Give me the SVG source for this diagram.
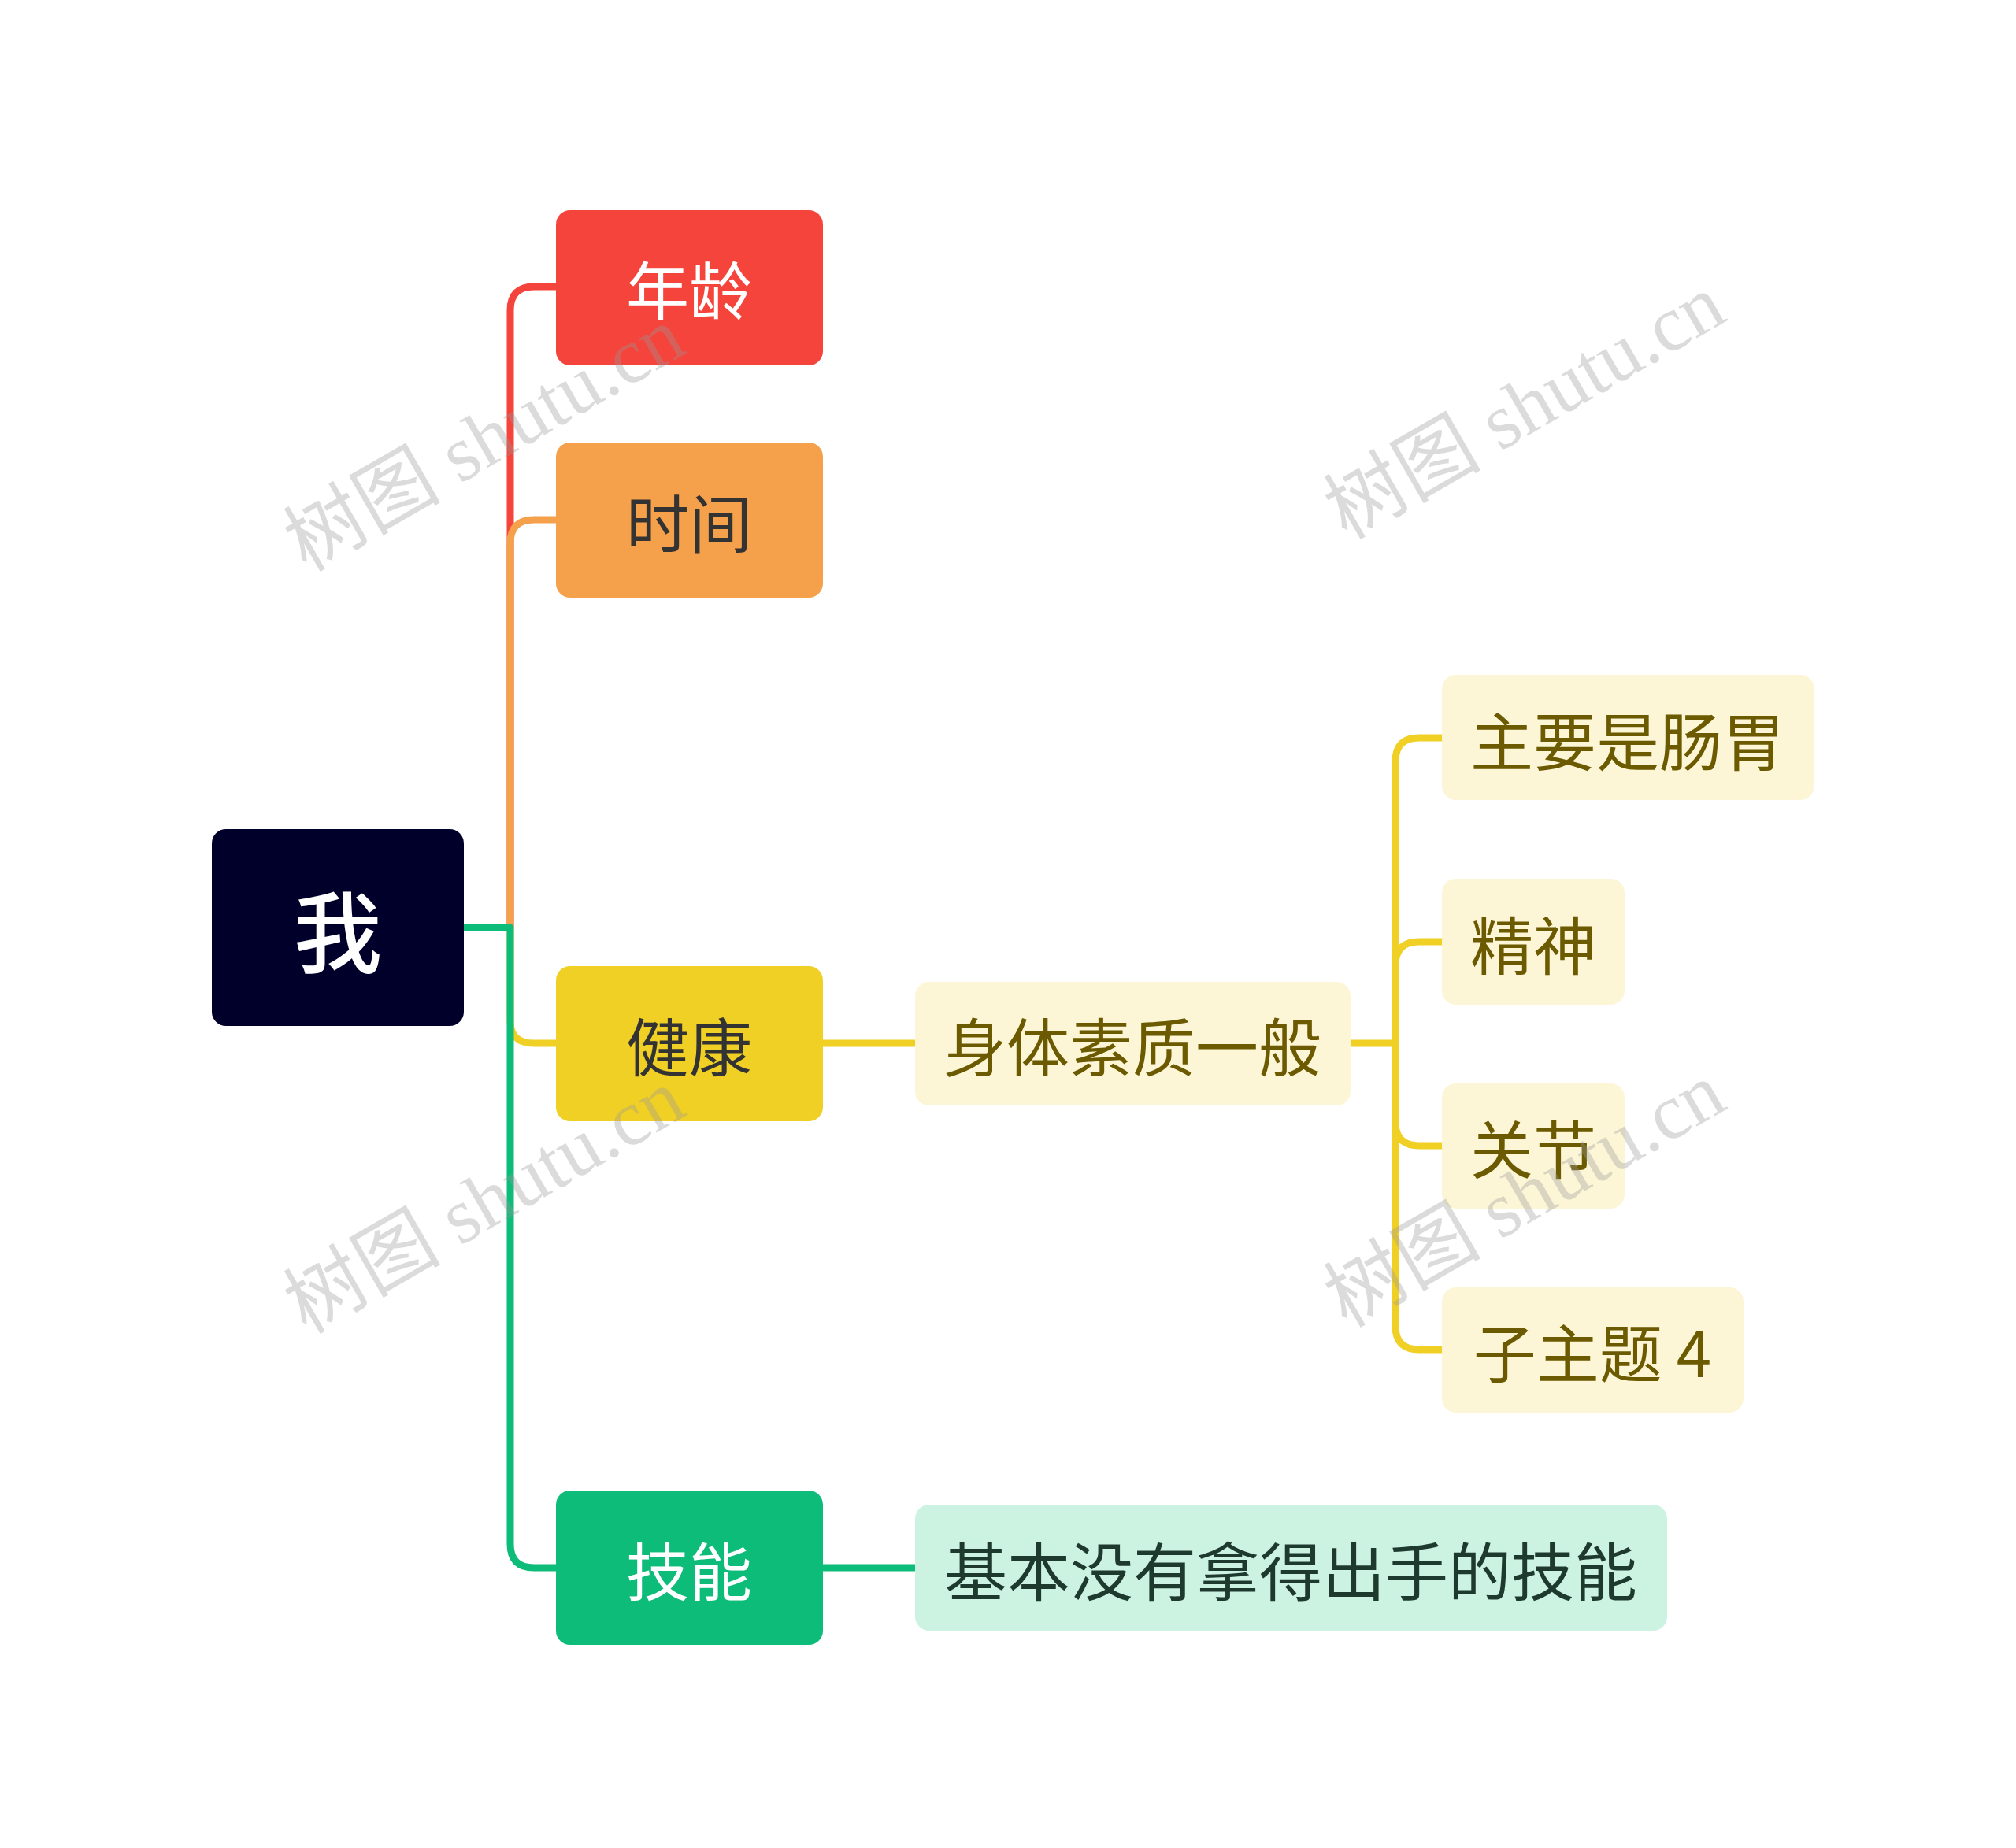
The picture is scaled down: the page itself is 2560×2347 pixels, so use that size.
<svg xmlns="http://www.w3.org/2000/svg" width="2560" height="2347" viewBox="0 0 2560 2347">
<style>
.t{font-family:"Noto Sans CJK SC","Noto Sans",sans-serif;font-size:80px;text-anchor:middle;dominant-baseline:central}
.c{fill:none;stroke-width:9;stroke-linecap:round;stroke-linejoin:round}
.s{fill:#FCF6D6}
.st{fill:#6B5A00}
.wm{font-family:"Liberation Serif","Noto Sans CJK SC",serif;font-size:100px;fill:#999;opacity:0.35;text-anchor:middle;dominant-baseline:central}
</style>
<rect width="2560" height="2347" fill="#fff"/>
<g id="connectors">
<path class="c" stroke="#F5443B" d="M589 1178 H648 V394 Q648 364 678 364 H706"/>
<path class="c" stroke="#F5A04A" d="M589 1178 H648 V690 Q648 660 678 660 H706"/>
<path class="c" stroke="#F0D025" d="M589 1178 H648 V1297 Q648 1325 678 1325 H706"/>
<path class="c" stroke="#0DBC79" d="M589 1178 H648 V1961 Q648 1991 678 1991 H706"/>
<path class="c" stroke="#F0D025" d="M1045 1325 H1162"/>
<path class="c" stroke="#0DBC79" d="M1045 1991 H1162"/>
<path class="c" stroke="#F0D025" d="M1715 1325 H1772 V967 Q1772 937 1802 937 H1831 M1772 1325 V1226 Q1772 1196 1802 1196 H1831 M1772 1325 V1425 Q1772 1455 1802 1455 H1831 M1772 1325 V1684 Q1772 1714 1802 1714 H1831"/>
</g>
<g id="root"><rect x="269" y="1053" width="320" height="250" rx="18" fill="#00002A"/><text class="t" x="429" y="1178" fill="#fff" style="font-size:112px;font-weight:500">我</text></g>
<g id="n1"><rect x="706" y="267" width="339" height="197" rx="18" fill="#F5443B"/><text class="t" x="875" y="364" fill="#fff">年龄</text></g>
<g id="n2"><rect x="706" y="562" width="339" height="197" rx="18" fill="#F5A04A"/><text class="t" x="875" y="660" fill="#333">时间</text></g>
<g id="n3"><rect x="706" y="1227" width="339" height="197" rx="18" fill="#F0D025"/><text class="t" x="875" y="1325" fill="#333">健康</text></g>
<g id="n4"><rect x="706" y="1893" width="339" height="196" rx="18" fill="#0DBC79"/><text class="t" x="875" y="1991" fill="#fff">技能</text></g>
<g id="n31"><rect class="s" x="1162" y="1247" width="553" height="157" rx="18"/><text class="t st" x="1438" y="1325">身体素质一般</text></g>
<g id="n311"><rect class="s" x="1831" y="857" width="473" height="159" rx="18"/><text class="t st" x="2067" y="937">主要是肠胃</text></g>
<g id="n312"><rect class="s" x="1831" y="1116" width="232" height="160" rx="18"/><text class="t st" x="1947" y="1196">精神</text></g>
<g id="n313"><rect class="s" x="1831" y="1376" width="232" height="159" rx="18"/><text class="t st" x="1947" y="1455">关节</text></g>
<g id="n314"><rect class="s" x="1831" y="1635" width="383" height="159" rx="18"/><text class="t st" x="2022" y="1714">子主题 4</text></g>
<g id="n41"><rect x="1162" y="1911" width="955" height="160" rx="18" fill="#CCF2E2"/><text class="t" x="1639" y="1991" fill="#1E3A2E">基本没有拿得出手的技能</text></g>
<g id="watermarks">
<text class="wm" transform="translate(615 558) rotate(-30)">树图 shutu.cn</text>
<text class="wm" transform="translate(1936 517) rotate(-30)">树图 shutu.cn</text>
<text class="wm" transform="translate(615 1526) rotate(-30)">树图 shutu.cn</text>
<text class="wm" transform="translate(1936 1518) rotate(-30)">树图 shutu.cn</text>
</g>
</svg>
